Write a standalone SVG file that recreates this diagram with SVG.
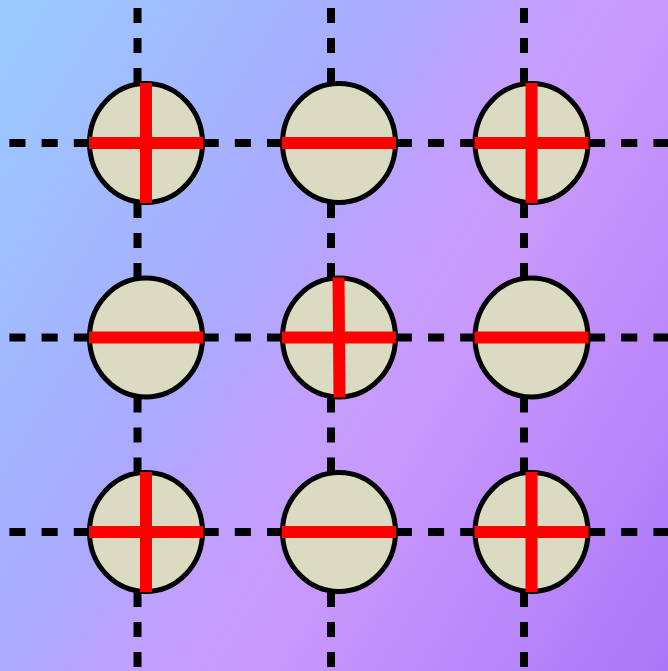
<svg xmlns="http://www.w3.org/2000/svg" width="668" height="671" viewBox="0 0 668 671">
  <defs>
    <linearGradient id="bg" gradientUnits="userSpaceOnUse" x1="0" y1="0" x2="788" y2="472">
      <stop offset="0" stop-color="#99ccff"/>
      <stop offset="0.375" stop-color="#aaaaff"/>
      <stop offset="0.5" stop-color="#c2a0ff"/>
      <stop offset="0.624" stop-color="#c898fb"/>
      <stop offset="0.81" stop-color="#bb88fb"/>
      <stop offset="1" stop-color="#aa77f7"/>
    </linearGradient>
  </defs>
  <style>
    .h { stroke: #000; stroke-width: 8; stroke-dasharray: 16.1 16.1; fill: none; }
    .v { stroke: #000; stroke-width: 8; stroke-dasharray: 15 15; fill: none; }
    .node ellipse { fill: #dbdbc1; stroke: #000; stroke-width: 5; }
    .bar { stroke: #ff0000; stroke-width: 12; fill: none; }
  </style>
  <rect x="0" y="0" width="668" height="671" fill="url(#bg)"/>
  <g id="connectors">
    <line class="h" x1="-22.8" y1="143" x2="700" y2="143"/>
    <line class="h" x1="-22.8" y1="337.5" x2="700" y2="337.5"/>
    <line class="h" x1="-22.8" y1="532" x2="700" y2="532"/>
    <line class="v" x1="137.5" y1="143" x2="137.5" y2="-10"/>
    <line class="v" x1="137.5" y1="143" x2="137.5" y2="337.5"/>
    <line class="v" x1="137.5" y1="337.5" x2="137.5" y2="532"/>
    <line class="v" x1="137.5" y1="532" x2="137.5" y2="690"/>
    <line class="v" x1="331" y1="143" x2="331" y2="-10"/>
    <line class="v" x1="331" y1="143" x2="331" y2="337.5"/>
    <line class="v" x1="331" y1="337.5" x2="331" y2="532"/>
    <line class="v" x1="331" y1="532" x2="331" y2="690"/>
    <line class="v" x1="524" y1="143" x2="524" y2="-10"/>
    <line class="v" x1="524" y1="143" x2="524" y2="337.5"/>
    <line class="v" x1="524" y1="337.5" x2="524" y2="532"/>
    <line class="v" x1="524" y1="532" x2="524" y2="690"/>
  </g>
  <g id="n11" class="node">
    <ellipse cx="146" cy="143" rx="56.5" ry="59.5"/>
    <line class="bar" x1="89" y1="143" x2="203" y2="143"/>
    <line class="bar" x1="146" y1="83" x2="146" y2="203"/>
  </g>
  <g id="n12" class="node">
    <ellipse cx="339" cy="143" rx="56.5" ry="59.5"/>
    <line class="bar" x1="282" y1="143" x2="396" y2="143"/>
  </g>
  <g id="n13" class="node">
    <ellipse cx="531.5" cy="143" rx="56.5" ry="59.5"/>
    <line class="bar" x1="474.5" y1="143" x2="588.5" y2="143"/>
    <line class="bar" x1="531.5" y1="83" x2="531.5" y2="203"/>
  </g>
  <g id="n21" class="node">
    <ellipse cx="146" cy="337.5" rx="56.5" ry="59.5"/>
    <line class="bar" x1="89" y1="337.5" x2="203" y2="337.5"/>
  </g>
  <g id="n22" class="node">
    <ellipse cx="339" cy="337.5" rx="56.5" ry="59.5"/>
    <line class="bar" x1="282" y1="337.5" x2="396" y2="337.5"/>
    <line class="bar" x1="338.5" y1="277.5" x2="339.5" y2="397.5"/>
  </g>
  <g id="n23" class="node">
    <ellipse cx="531.5" cy="337.5" rx="56.5" ry="59.5"/>
    <line class="bar" x1="474.5" y1="337.5" x2="588.5" y2="337.5"/>
  </g>
  <g id="n31" class="node">
    <ellipse cx="146" cy="532" rx="56.5" ry="59.5"/>
    <line class="bar" x1="89" y1="532" x2="203" y2="532"/>
    <line class="bar" x1="146" y1="472" x2="146" y2="592"/>
  </g>
  <g id="n32" class="node">
    <ellipse cx="339" cy="532" rx="56.5" ry="59.5"/>
    <line class="bar" x1="282" y1="532" x2="396" y2="532"/>
  </g>
  <g id="n33" class="node">
    <ellipse cx="531.5" cy="532" rx="56.5" ry="59.5"/>
    <line class="bar" x1="474.5" y1="532" x2="588.5" y2="532"/>
    <line class="bar" x1="531.5" y1="472" x2="531.5" y2="592"/>
  </g>
</svg>
